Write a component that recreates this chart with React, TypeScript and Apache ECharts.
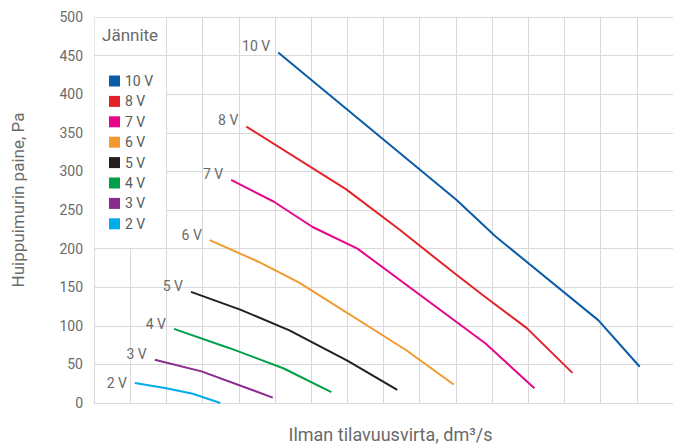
import React, { useEffect, useRef } from "react";
import * as echarts from "echarts";

const seriesNames = ["10 V", "8 V", "7 V", "6 V", "5 V", "4 V", "3 V", "2 V"];
const seriesColors = ["#0a5ba8", "#e42229", "#e8058b", "#f2992f", "#231f20", "#00a04b", "#8b2a8f", "#00acec"];

const v10 = [[50.9, 454], [100.2, 263], [110.9, 216], [139.4, 107], [150.8, 47]];
const v8 = [[42.1, 358], [69.6, 277], [84.3, 225], [99.9, 167], [108.2, 137], [119.6, 97], [132.2, 39]];
const v7 = [[37.9, 289], [49.6, 261], [60.4, 228], [72.8, 200], [108.2, 77], [121.7, 19]];
const v6 = [[32.0, 211], [45.4, 183], [56.7, 156], [86.1, 69], [99.4, 24]];
const v5 = [[26.8, 144], [40.4, 121], [54.0, 94], [70.0, 55], [83.8, 17]];
const v4 = [[22.1, 96], [37.5, 71], [52.3, 45], [65.6, 14]];
const v3 = [[16.8, 56], [29.7, 41], [49.4, 7]];
const v2 = [[11.3, 26], [20.0, 19], [27.3, 12], [34.9, 0]];
const seriesData = [v10, v8, v7, v6, v5, v4, v3, v2];

const labelOffsets = [-7, -7, -6, -5, -6, -5, -6, 0];

export default function App() {
  const ref = useRef<HTMLDivElement>(null);
  useEffect(() => {
    if (!ref.current) return;
    const chart = echarts.init(ref.current, undefined, { renderer: "svg" });
    const font = "Roboto, 'Open Sans', sans-serif";
    const gridColor = "#d9d9d9";
    const series: any[] = seriesNames.map((name, i) => ({
      name,
      type: "line",
      color: seriesColors[i],
      symbol: "circle",
      symbolSize: 0,
      lineStyle: { width: 2, color: seriesColors[i] },
      z: 3,
      data: seriesData[i].map((p, j) =>
        j === 0
          ? {
              value: p,
              label: {
                show: true,
                formatter: name,
                position: "left",
                distance: 8,
                offset: [0, labelOffsets[i]],
                color: "#6a6a6a",
                fontSize: 14,
                fontFamily: font,
              },
            }
          : { value: p }
      ),
    }));
    series.push({
      name: "_box",
      type: "line",
      data: [],
      z: 2,
      markArea: {
        silent: true,
        itemStyle: { color: "#ffffff", opacity: 1, borderWidth: 0 },
        label: { show: false },
        data: [[{ coord: [0.15, 499] }, { coord: [19.85, 201] }]],
      },
      markLine: {
        silent: true,
        symbol: "none",
        label: { show: false },
        lineStyle: { color: gridColor, width: 1, type: "solid" },
        data: [[{ coord: [0, 450] }, { coord: [20, 450] }]],
      },
    });
    chart.setOption({
      animation: false,
      backgroundColor: "#ffffff",
      title: {
        text: "Jännite",
        left: 102,
        top: 26,
        padding: 0,
        textStyle: { fontSize: 17, fontWeight: "normal", color: "#6a6a6a", fontFamily: font },
      },
      legend: {
        data: seriesNames,
        orient: "vertical",
        left: 109,
        top: 74,
        padding: 0,
        icon: "rect",
        itemWidth: 11,
        itemHeight: 11,
        itemGap: 6.4,
        textStyle: { fontSize: 14, color: "#5a5a5a", fontFamily: font, lineHeight: 14 },
      },
      grid: { left: 94, right: -2, top: 17, bottom: 43, containLabel: false },
      xAxis: {
        type: "value",
        min: 0,
        max: 160,
        interval: 10,
        name: "Ilman tilavuusvirta, dm³/s",
        nameLocation: "middle",
        nameGap: 22,
        nameTextStyle: { fontSize: 18, color: "#6a6a6a", fontFamily: font, padding: [0, 0, 0, 14] },
        axisLine: { show: false },
        axisTick: { show: false },
        axisLabel: { show: false },
        splitLine: { show: true, lineStyle: { color: gridColor, width: 1 } },
      },
      yAxis: {
        type: "value",
        min: 0,
        max: 500,
        interval: 50,
        name: "Huippuimurin paine, Pa",
        nameLocation: "middle",
        nameGap: 68,
        nameTextStyle: { fontSize: 17, color: "#6a6a6a", fontFamily: font, padding: [0, 0, 0, 20] },
        axisLine: { show: false },
        axisTick: { show: false },
        axisLabel: { fontSize: 14, color: "#6a6a6a", margin: 11, fontFamily: font },
        splitLine: { show: true, lineStyle: { color: gridColor, width: 1 } },
      },
      series,
    });
    return () => chart.dispose();
  }, []);
  return <div ref={ref} style={{ width: 673, height: 448, position: "absolute", left: 0, top: 0 }} />;
}
